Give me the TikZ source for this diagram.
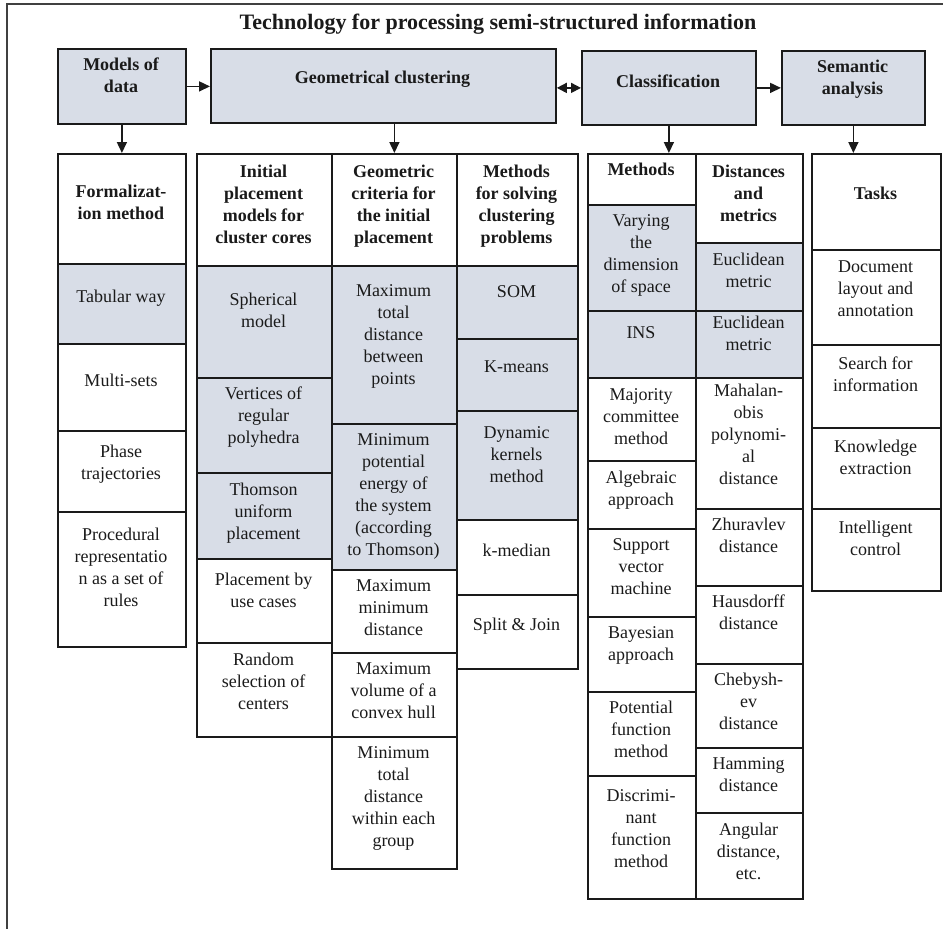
\documentclass[tikz,border=0pt]{standalone}
\usepackage{fontspec}
\setmainfont{Liberation Serif}
\usetikzlibrary{arrows.meta}
\definecolor{cellfill}{HTML}{D8DDE7}
\definecolor{ink}{HTML}{1A1A1A}
\tikzset{
  plain/.style={draw=ink, line width=1.8pt, rectangle, inner sep=0pt},
  shaded/.style={plain, fill=cellfill},
  txt/.style={align=center, inner sep=0pt, text=ink, font=\fontsize{18}{22}\selectfont},
  arr/.style={draw=ink, line width=1.6pt, -{Triangle[length=11pt,width=10pt]}},
  darr/.style={draw=ink, line width=1.6pt, {Triangle[length=10pt,width=10pt]}-{Triangle[length=10pt,width=10pt]}},
  frame/.style={draw=black!75, line width=2.2pt}
}
\newcommand\mycell[8]{%
  \node[#6, minimum width={#4-#2}, minimum height={#5-#3}, anchor=north west] (#1) at (#2,#3) {};
  \node[txt, anchor=north] (#1t) at ({(#2+#4)/2},{#7-7.5}) {#8};
}
\begin{document}
\begin{tikzpicture}[x=1pt,y=-1pt]
\useasboundingbox (0,0) rectangle (943,929);
\coordinate (fa) at (7,929);
\coordinate (fb) at (7,4);
\coordinate (fc) at (945,4);
\draw[frame] (fa) -- (fb) -- (fc);
\node[txt, font=\fontsize{22}{26}\selectfont\bfseries] (title) at (498,24) {Technology for processing semi-structured information};
% top row
\mycell{models}{57}{48}{185}{123}{shaded}{65}{\bfseries Models of\\\bfseries data}
\mycell{geom}{210}{48}{555}{122}{shaded}{78}{\bfseries Geometrical clustering}
\mycell{class}{581}{50}{755}{124}{shaded}{82}{\bfseries Classification}
\mycell{sem}{781}{50}{924}{124}{shaded}{67}{\bfseries Semantic\\\bfseries analysis}
% column A
\mycell{formH}{57}{153}{185}{263}{plain}{192}{\bfseries Formalizat-\\\bfseries ion method}
\mycell{tab}{57}{263}{185}{343}{shaded}{297}{Tabular way}
\mycell{multi}{57}{343}{185}{430}{plain}{381}{Multi-sets}
\mycell{phase}{57}{430}{185}{511}{plain}{452}{Phase\\trajectories}
\mycell{proc}{57}{511}{185}{646}{plain}{535}{Procedural\\representatio\\n as a set of\\rules}
% column B
\mycell{initH}{196}{153}{331}{265}{plain}{172}{\bfseries Initial\\\bfseries placement\\\bfseries models for\\\bfseries cluster cores}
\mycell{sph}{196}{265}{331}{377}{shaded}{300}{Spherical\\model}
\mycell{vert}{196}{377}{331}{472}{shaded}{394}{Vertices of\\regular\\polyhedra}
\mycell{thom}{196}{472}{331}{558}{shaded}{490}{Thomson\\uniform\\placement}
\mycell{usec}{196}{558}{331}{642}{plain}{580}{Placement by\\use cases}
\mycell{rand}{196}{642}{331}{736}{plain}{660}{Random\\selection of\\centers}
% column C
\mycell{critH}{331}{153}{456}{265}{plain}{172}{\bfseries Geometric\\\bfseries criteria for\\\bfseries the initial\\\bfseries placement}
\mycell{maxtot}{331}{265}{456}{423}{shaded}{292}{Maximum\\total\\distance\\between\\points}
\mycell{minpot}{331}{423}{456}{569}{shaded}{441}{Minimum\\potential\\energy of\\the system\\(according\\to Thomson)}
\mycell{maxmin}{331}{569}{456}{652}{plain}{587}{Maximum\\minimum\\distance}
\mycell{maxvol}{331}{652}{456}{736}{plain}{670}{Maximum\\volume of a\\convex hull}
\mycell{mintot}{331}{736}{456}{868}{plain}{754}{Minimum\\total\\distance\\within each\\group}
% column D
\mycell{solvH}{456}{153}{577}{265}{plain}{172}{\bfseries Methods\\\bfseries for solving\\\bfseries clustering\\\bfseries problems}
\mycell{som}{456}{265}{577}{338}{shaded}{293}{SOM}
\mycell{kmeans}{456}{338}{577}{410}{shaded}{368}{K-means}
\mycell{dyn}{456}{410}{577}{519}{shaded}{434}{Dynamic\\kernels\\method}
\mycell{kmed}{456}{519}{577}{594}{plain}{551}{k-median}
\mycell{split}{456}{594}{577}{668}{plain}{625}{Split \& Join}
% column E
\mycell{methH}{587}{153}{695}{204}{plain}{170}{\bfseries Methods}
\mycell{vary}{587}{204}{695}{310}{shaded}{222}{Varying\\the\\dimension\\of space}
\mycell{ins}{587}{310}{695}{377}{shaded}{334}{INS}
\mycell{major}{587}{377}{695}{460}{plain}{396}{Majority\\committee\\method}
\mycell{alg}{587}{460}{695}{528}{plain}{478}{Algebraic\\approach}
\mycell{svm}{587}{528}{695}{616}{plain}{546}{Support\\vector\\machine}
\mycell{bayes}{587}{616}{695}{691}{plain}{634}{Bayesian\\approach}
\mycell{pot}{587}{691}{695}{775}{plain}{708}{Potential\\function\\method}
\mycell{disc}{587}{775}{695}{898}{plain}{797}{Discrimi-\\nant\\function\\method}
% column F
\mycell{distH}{695}{153}{802}{242}{plain}{172}{\bfseries Distances\\\bfseries and\\\bfseries metrics}
\mycell{euca}{695}{242}{802}{310}{shaded}{260}{Euclidean\\metric}
\mycell{eucb}{695}{310}{802}{377}{shaded}{323}{Euclidean\\metric}
\mycell{maha}{695}{377}{802}{508}{plain}{391}{Mahalan-\\obis\\polynomi-\\al\\distance}
\mycell{zhur}{695}{508}{802}{585}{plain}{525}{Zhuravlev\\distance}
\mycell{haus}{695}{585}{802}{663}{plain}{602}{Hausdorff\\distance}
\mycell{cheb}{695}{663}{802}{747}{plain}{680}{Chebysh-\\ev\\distance}
\mycell{ham}{695}{747}{802}{812}{plain}{765}{Hamming\\distance}
\mycell{ang}{695}{812}{802}{898}{plain}{830}{Angular\\distance,\\etc.}
% column G
\mycell{tasksH}{811}{153}{940}{249}{plain}{194}{\bfseries Tasks}
\mycell{doc}{811}{249}{940}{344}{plain}{268}{Document\\layout and\\annotation}
\mycell{search}{811}{344}{940}{427}{plain}{364}{Search for\\information}
\mycell{know}{811}{427}{940}{508}{plain}{447}{Knowledge\\extraction}
\mycell{intel}{811}{508}{940}{590}{plain}{528}{Intelligent\\control}
% connectors
\draw[arr] (models.east) -- (geom.west |- models.east);
\draw[darr] (geom.east |- class.west) -- (class.west);
\draw[arr] (class.east) -- (sem.west);
\draw[arr] (models.south) -- (formH.north);
\draw[arr] (geom.south -| critH.north) -- (critH.north);
\draw[arr] (class.south) -- (class.south |- methH.north);
\draw[arr] (sem.south) -- (sem.south |- tasksH.north);
\end{tikzpicture}
\end{document}
